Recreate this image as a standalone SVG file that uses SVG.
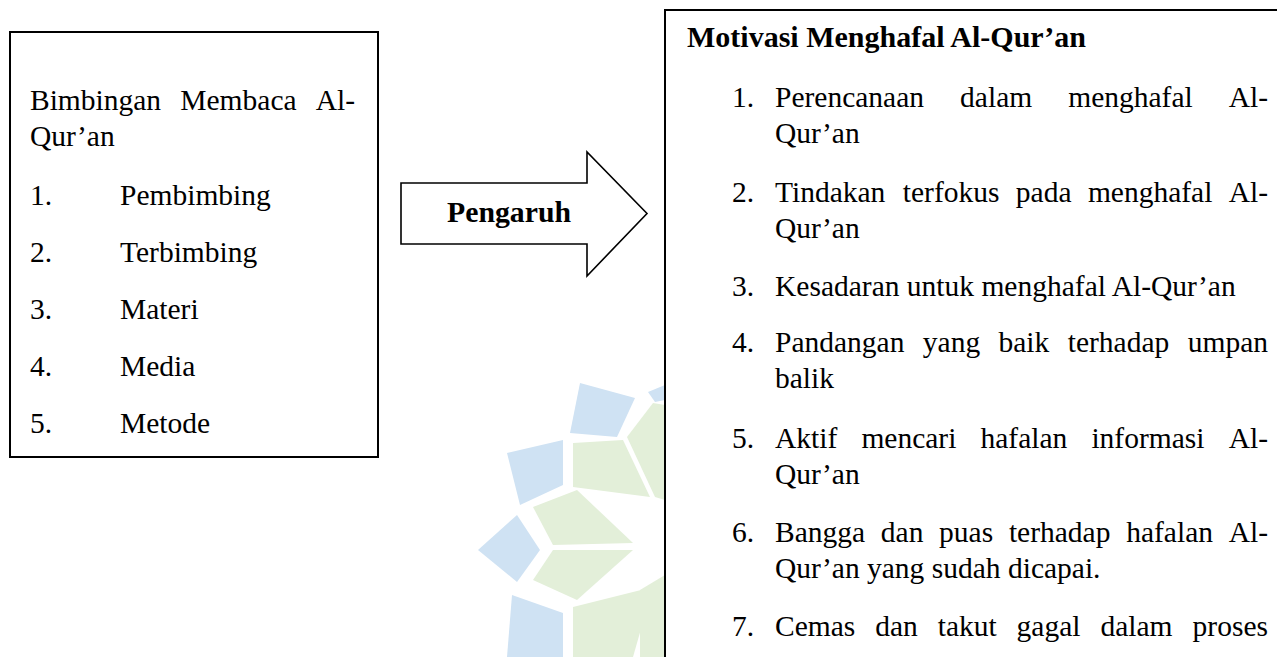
<svg xmlns="http://www.w3.org/2000/svg" width="1277" height="657" viewBox="0 0 1277 657">
<style>
.t{font-family:"Liberation Serif","Times New Roman",serif;font-size:29.5px;fill:#000}
.b{font-weight:bold}
.e{text-anchor:end}
.box{fill:#fff;stroke:#000;stroke-width:2}
.wb{fill:#cfe2f3}
.wg{fill:#e3efd9}
</style>
<rect width="1277" height="657" fill="#fff"/>
<g id="watermark">
<polygon class="wb" points="580,383 635,398 617,437 570,433"/>
<polygon class="wb" points="507,453 563,440 563,485 520,505"/>
<polygon class="wb" points="478,550 517,515 540,550 517,582"/>
<polygon class="wb" points="512,595 563,613 563,657 507,657"/>
<polygon class="wb" points="648,392 665,385 665,400 655,402"/>
<polygon class="wg" points="573,443 623,440 650,497 573,487"/>
<polygon class="wg" points="533,507 577,490 633,543 553,545"/>
<polygon class="wg" points="533,580 553,550 633,550 577,600"/>
<polygon class="wg" points="573,607 653,587 633,657 573,657"/>
<polygon class="wg" points="627,437 653,403 665,405 665,500 655,497"/>
<polygon class="wg" points="640,590 665,575 665,657 640,657"/>
</g>
<g id="left-box">
<rect class="box" x="10" y="32" width="368" height="425"/>
<text class="t" y="110"><tspan x="30">Bimbingan</tspan><tspan x="180.3">Membaca</tspan></text>
<text class="t e" x="355" y="110">Al-</text>
<text class="t" x="30" y="146">Qur’an</text>
<text class="t" x="30" y="205">1.</text><text class="t" x="120" y="205">Pembimbing</text>
<text class="t" x="30" y="262">2.</text><text class="t" x="120" y="262">Terbimbing</text>
<text class="t" x="30" y="319">3.</text><text class="t" x="120" y="319">Materi</text>
<text class="t" x="30" y="376">4.</text><text class="t" x="120" y="376">Media</text>
<text class="t" x="30" y="433">5.</text><text class="t" x="120" y="433">Metode</text>
</g>
<g id="connectors">
<g id="arrow-pengaruh">
<polygon points="401,183 587,183 587,152 647,213.5 587,276 587,244 401,244" fill="#fff" stroke="#000" stroke-width="1.6" stroke-linejoin="miter"/>
<text class="t b" x="447" y="222" textLength="124" lengthAdjust="spacingAndGlyphs">Pengaruh</text>
</g>
</g>
<g id="right-box">
<rect class="box" x="665" y="10" width="700" height="700"/>
<text class="t b" x="687" y="47" style="font-size:30px">Motivasi Menghafal Al-Qur’an</text>
<text class="t" x="732" y="107">1.</text>
<text class="t" y="107"><tspan x="775">Perencanaan</tspan><tspan x="960.1">dalam</tspan><tspan x="1068.2">menghafal</tspan></text>
<text class="t e" x="1268" y="107">Al-</text>
<text class="t" x="775" y="143">Qur’an</text>
<text class="t" x="732" y="202">2.</text>
<text class="t" y="202"><tspan x="775">Tindakan</tspan><tspan x="902.8">terfokus</tspan><tspan x="1015.8">pada</tspan><tspan x="1087.9">menghafal</tspan></text>
<text class="t e" x="1268" y="202">Al-</text>
<text class="t" x="775" y="238">Qur’an</text>
<text class="t" x="732" y="296">3.</text>
<text class="t" x="775" y="296">Kesadaran untuk menghafal Al-Qur’an</text>
<text class="t" x="732" y="352">4.</text>
<text class="t" y="352"><tspan x="775">Pandangan</tspan><tspan x="922.8">yang</tspan><tspan x="998.5">baik</tspan><tspan x="1067.7">terhadap</tspan></text>
<text class="t e" x="1268" y="352">umpan</text>
<text class="t" x="775" y="388">balik</text>
<text class="t" x="732" y="448">5.</text>
<text class="t" y="448"><tspan x="775">Aktif</tspan><tspan x="861.4">mencari</tspan><tspan x="980.5">hafalan</tspan><tspan x="1091.4">informasi</tspan></text>
<text class="t e" x="1268" y="448">Al-</text>
<text class="t" x="775" y="484">Qur’an</text>
<text class="t" x="732" y="542">6.</text>
<text class="t" y="542"><tspan x="775">Bangga</tspan><tspan x="880.8">dan</tspan><tspan x="939.1">puas</tspan><tspan x="1008.9">terhadap</tspan><tspan x="1126.2">hafalan</tspan></text>
<text class="t e" x="1268" y="542">Al-</text>
<text class="t" x="775" y="578">Qur’an yang sudah dicapai.</text>
<text class="t" x="732" y="636">7.</text>
<text class="t" y="636"><tspan x="775">Cemas</tspan><tspan x="875.2">dan</tspan><tspan x="937.7">takut</tspan><tspan x="1016.6">gagal</tspan><tspan x="1100.4">dalam</tspan></text>
<text class="t e" x="1268" y="636">proses</text>
</g>
</svg>
